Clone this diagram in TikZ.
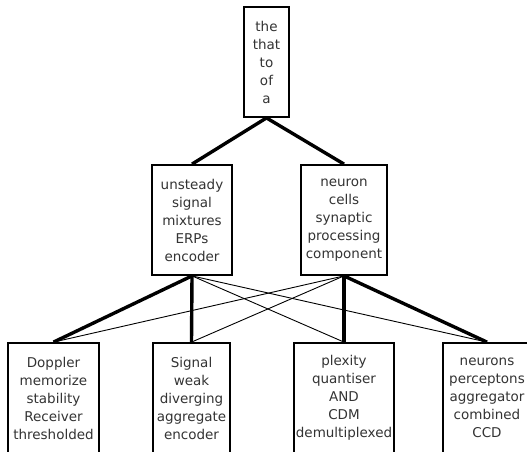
\documentclass[tikz,border=0pt]{standalone}
\usepackage{fontspec}
\setmainfont{DejaVu Sans}
\begin{document}
\begin{tikzpicture}[x=1pt,y=-1pt,
  box/.style={draw, line width=1.8pt, align=center, minimum height=110pt, inner sep=0pt, text=black!80, font=\fontsize{13.5}{18}\selectfont},
  heavy/.style={line width=3.4pt},
  light/.style={line width=0.9pt}]
\useasboundingbox (0,0) rectangle (527,451);
\clip (0,0) rectangle (527,451);
% top
\node[box, minimum width=45pt] (top) at (266.5,62) {the\\that\\to\\of\\a};
% middle row
\node[box, minimum width=80pt] (sig) at (192,220) {unsteady\\signal\\mixtures\\ERPs\\encoder};
\node[box, minimum width=86pt] (neu) at (344,220) {neuron\\cells\\synaptic\\processing\\component};
% bottom row
\node[box, minimum width=91pt] (dop) at (53.5,398) {Doppler\\memorize\\stability\\Receiver\\thresholded};
\node[box, minimum width=77pt] (wea) at (191.5,398) {Signal\\weak\\diverging\\aggregate\\encoder};
\node[box, minimum width=100pt] (ple) at (344,398) {plexity\\quantiser\\AND\\CDM\\demultiplexed};
\node[box, minimum width=88pt] (per) at (487,398) {neurons\\perceptons\\aggregator\\combined\\CCD};
% edges
\draw[heavy] (top.south) -- (sig.north);
\draw[heavy] (top.south) -- (neu.north);
\foreach \b in {dop,wea} {
  \draw[heavy] (sig.south) -- (\b.north);
  \draw[light] (neu.south) -- (\b.north);
}
\foreach \b in {ple,per} {
  \draw[light] (sig.south) -- (\b.north);
  \draw[heavy] (neu.south) -- (\b.north);
}
\end{tikzpicture}
\end{document}
